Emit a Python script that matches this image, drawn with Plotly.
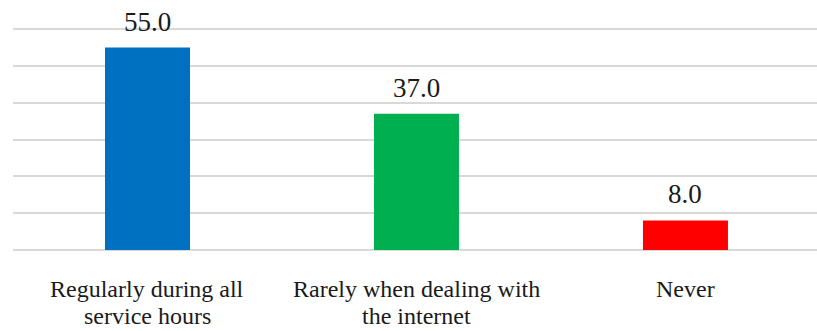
import plotly.graph_objects as go

categories = ["Regularly during all<br>service hours", "Rarely when dealing with<br>the internet", "Never"]
values = [55.0, 37.0, 8.0]
colors = ["#0070C0", "#00B050", "#FF0000"]
positions = [0, 1, 2]

FONT = "Liberation Serif"
TEXT = "#1a1a1a"

fig = go.Figure()
fig.add_trace(go.Bar(
    x=positions, y=values, width=0.316,
    marker=dict(color=colors, line=dict(width=0)),
    showlegend=False, hoverinfo="skip",
))

# value labels above each bar
for x, v in zip(positions, values):
    fig.add_annotation(x=x, y=v, text=f"{v:.1f}", showarrow=False,
                       yanchor="bottom", yshift=9,
                       font=dict(family=FONT, size=27, color=TEXT))

# category labels under the axis, one annotation per line for tight leading
for x, label in zip(positions, categories):
    for i, line in enumerate(label.split("<br>")):
        fig.add_annotation(x=x, xref="x", y=0, yref="paper", text=line,
                           showarrow=False, yanchor="middle",
                           yshift=-38 - 27 * i,
                           font=dict(family=FONT, size=24, color=TEXT))

fig.update_layout(
    width=817, height=331,
    margin=dict(l=13, r=0, t=28, b=80),
    paper_bgcolor="white", plot_bgcolor="white",
    font=dict(family=FONT, size=24, color=TEXT),
    xaxis=dict(range=[-0.5, 2.489], tickvals=positions, showticklabels=False,
               showgrid=False, zeroline=False, showline=False, ticks="",
               fixedrange=True),
    yaxis=dict(range=[-0.3, 60.3], tickvals=[0, 10, 20, 30, 40, 50, 60],
               showgrid=True, gridcolor="#d9d9d9",
               gridwidth=1.5, zeroline=False, showticklabels=False,
               showline=False, ticks="", fixedrange=True),
)

fig.write_html("out.html")
